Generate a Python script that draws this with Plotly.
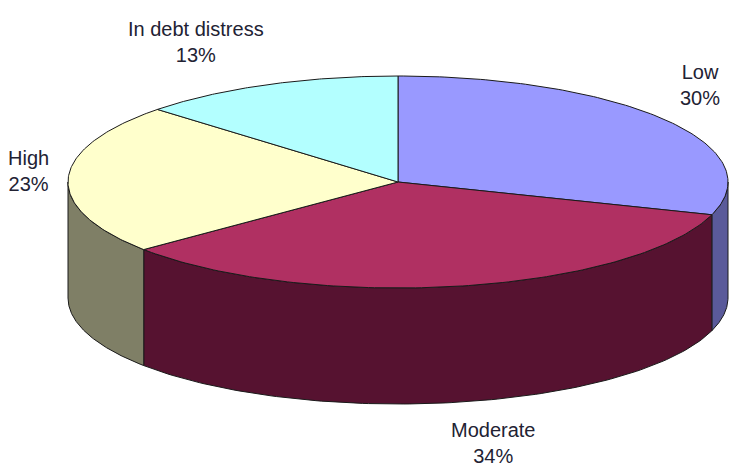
import numpy as np
import plotly.graph_objects as go

# Debt-distress risk ratings: share of countries in each category (%)
categories = ["Low", "Moderate", "High", "In debt distress"]
shares = [30, 34, 23, 13]

# Slice colours (top face / outer wall)
top_colors = ["#9999FF", "#B03062", "#FFFFCC", "#B3FFFF"]
side_colors = ["#5A5A9A", "#561230", "#7F7F66", "#6A9999"]

# Label anchor points (pixels) for each category
label_xy = [(700, 85), (493, 443), (28, 171), (196, 42)]

W, H = 729, 472
cx, cy, rx, ry, depth = 398, 182, 330, 106, 116
outline = "#1a1a1a"


def arc(a_from, a_to, dy=0.0, n=120):
    t = np.radians(np.linspace(a_from, a_to, n))
    return cx + rx * np.cos(t), cy - ry * np.sin(t) + dy


total = float(sum(shares))
bounds = 90 - 360 * np.concatenate([[0], np.cumsum(shares)]) / total

fig = go.Figure()

# Outer walls: only the front half of the disc (angles between -180 and 0)
for i in range(len(shares)):
    hi, lo = bounds[i], bounds[i + 1]
    a_hi, a_lo = min(hi, 0.0), max(lo, -180.0)
    if a_hi <= a_lo:
        continue
    xt, yt = arc(a_hi, a_lo)
    xb, yb = arc(a_lo, a_hi, dy=depth)
    xs = np.concatenate([xt, xb, xt[:1]])
    ys = np.concatenate([yt, yb, yt[:1]])
    fig.add_trace(go.Scatter(x=xs, y=ys, mode="lines", fill="toself",
                             fillcolor=side_colors[i],
                             line=dict(color=outline, width=1),
                             hoverinfo="skip", showlegend=False))

# Top faces
for i in range(len(shares)):
    hi, lo = bounds[i], bounds[i + 1]
    xa, ya = arc(hi, lo)
    xs = np.concatenate([[cx], xa, [cx]])
    ys = np.concatenate([[cy], ya, [cy]])
    fig.add_trace(go.Scatter(x=xs, y=ys, mode="lines", fill="toself",
                             fillcolor=top_colors[i],
                             line=dict(color=outline, width=1),
                             hoverinfo="skip", showlegend=False))

# Category labels with percentage
for name, val, (lx, ly) in zip(categories, shares, label_xy):
    fig.add_annotation(x=lx, y=ly, text=f"{name}<br>{val}%", showarrow=False,
                       xanchor="center", yanchor="middle", align="center",
                       font=dict(family="Liberation Sans, Arial, sans-serif",
                                 size=20, color="#222233"))

fig.update_layout(
    width=W, height=H, autosize=False,
    margin=dict(l=0, r=0, t=0, b=0),
    paper_bgcolor="white", plot_bgcolor="white",
    xaxis=dict(range=[0, W], visible=False, fixedrange=True),
    yaxis=dict(range=[H, 0], visible=False, fixedrange=True),
)

fig.write_html("out.html")
